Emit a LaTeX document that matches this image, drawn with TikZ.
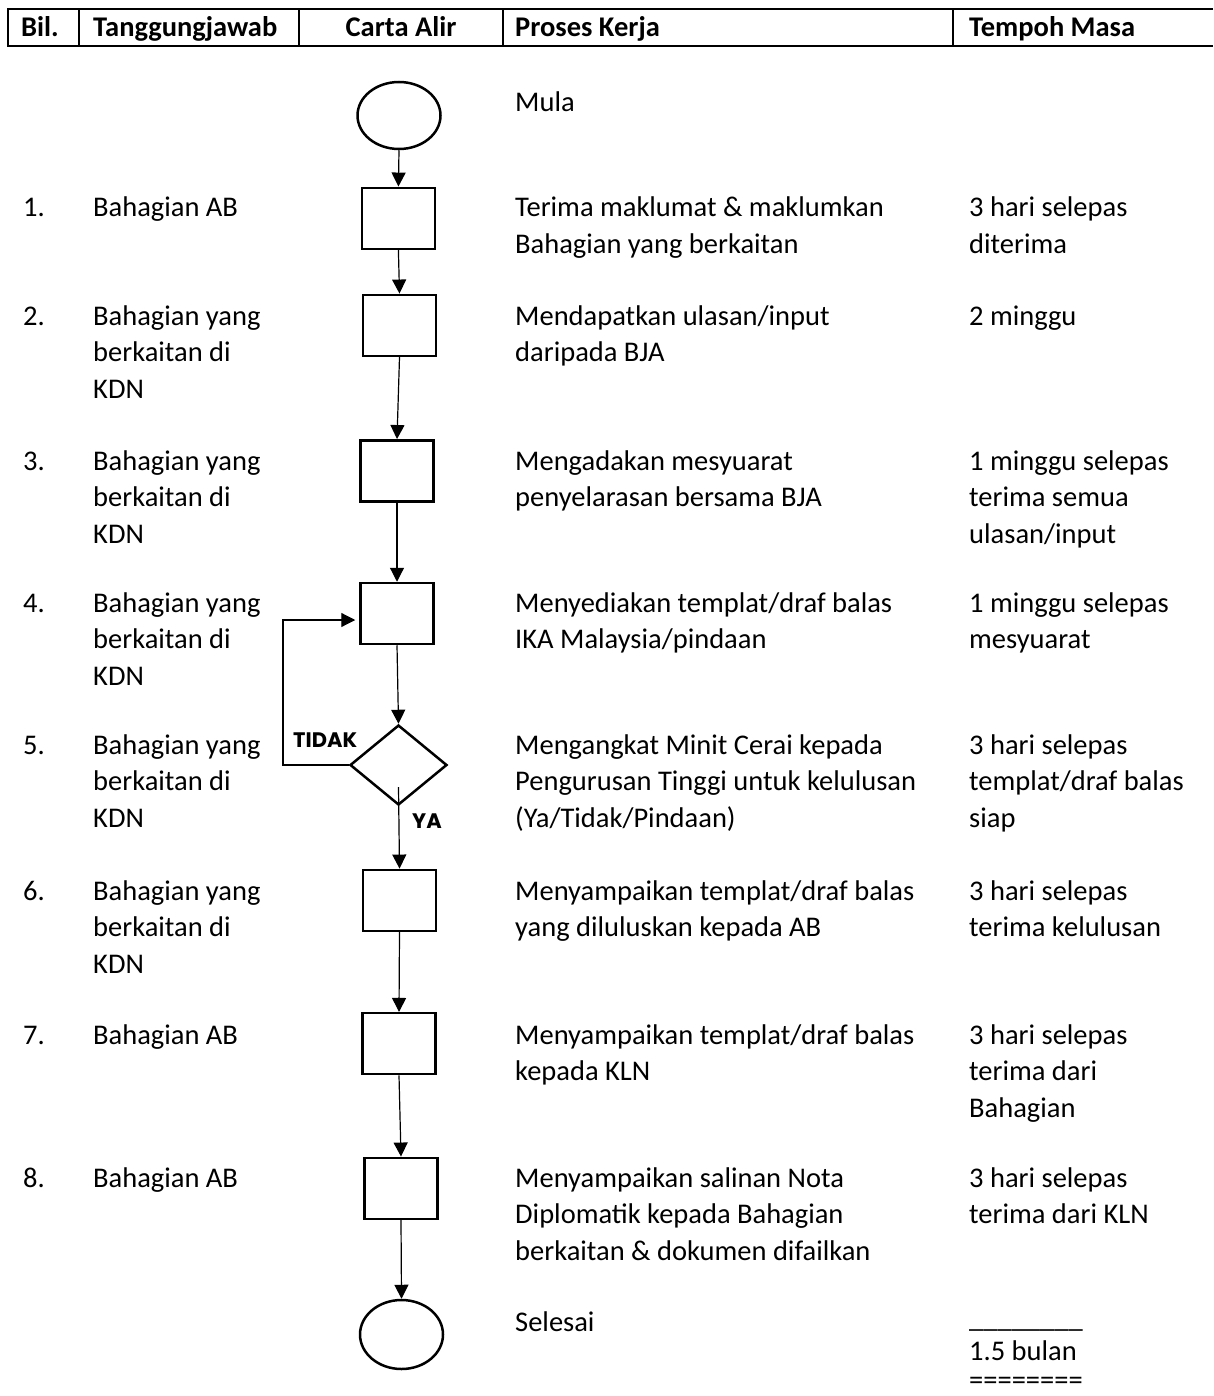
\documentclass[tikz,border=0pt]{standalone}
\usepackage{fontspec}
\setmainfont{Carlito}
\newfontfamily\gothic{Poppins}
\usetikzlibrary{arrows.meta,shapes.geometric}
\newcommand{\ml}[1]{\begin{tabular}[t]{@{}l@{}}#1\end{tabular}}
\begin{document}
\begin{tikzpicture}[x=1pt,y=-1pt,
  txt/.style={anchor=base west, inner sep=0pt, font=\fontsize{28.5}{36.6}\selectfont},
  hdr/.style={anchor=base west, inner sep=0pt, font=\fontsize{28.5}{36.6}\selectfont\bfseries},
  stepbox/.style={draw, line width=2.5pt, minimum width=73pt, minimum height=61pt, inner sep=0pt},
  term/.style={draw, ellipse, line width=2.5pt, minimum width=83pt, minimum height=67pt, inner sep=0pt},
  dec/.style={draw, diamond, line width=2.5pt, minimum width=97pt, minimum height=80pt, inner sep=0pt},
  conn/.style={line width=1.2pt, -{Triangle[length=14pt,width=14pt]}},
  lbl/.style={anchor=base west, inner sep=0pt, font=\gothic\bfseries\fontsize{21}{25}\selectfont},
]
\useasboundingbox[fill=white] (0,0) rectangle (1213,1396);

% header
\draw[line width=2.5pt] (1213,9) -- (8,9) -- (8,46) -- (1213,46);
\draw[line width=2.5pt] (79,9) -- (79,46);
\draw[line width=2.5pt] (299,9) -- (299,46);
\draw[line width=2.5pt] (503,9) -- (503,46);
\draw[line width=2.5pt] (953,9) -- (953,46);
\node[hdr] (h1) at (21,37) {Bil.};
\node[hdr] (h2) at (93,37) {Tanggungjawab};
\node[hdr, anchor=base] (h3) at (401,37) {Carta Alir};
\node[hdr] (h4) at (515,37) {Proses Kerja};
\node[hdr] (h5) at (969,37) {Tempoh Masa};

% flow shapes
\node[term] (s) at (399,115.5) {};
\node[stepbox] (b1) at (398.4,218.3) {};
\node[stepbox] (b2) at (399.5,325.3) {};
\node[stepbox] (b3) at (397,470.8) {};
\node[stepbox] (b4) at (397,613.5) {};
\node[dec] (d) at (398.5,765) {};
\node[stepbox] (b6) at (399.5,900.3) {};
\node[stepbox] (b7) at (399,1043.7) {};
\node[stepbox] (b8) at (401,1188.3) {};
\node[term, minimum height=69pt] (e) at (401.5,1334.5) {};

\coordinate (lp) at (283,620);
\coordinate (ya) at (398.5,787);

\draw[conn] (s.south) -- (b1.north);
\draw[conn] (b1.south) -- (b2.north);
\draw[conn] (b2.south) -- (b3.north);
\draw[conn] (b3.south) -- (b4.north);
\draw[conn] (b4.south) -- (d.north);
\draw[conn, shorten >=4pt] (d.west) -| (lp) -- (b4.west |- lp);
\draw[conn] (ya) -- (b6.north);
\draw[conn] (b6.south) -- (b7.north);
\draw[conn] (b7.south) -- (b8.north);
\draw[conn] (b8.south) -- (e.north);

\node[lbl] (tidak) at (293,747) {TIDAK};
\node[lbl] (yalbl) at (412,828) {YA};

% rows
\node[txt] (mula) at (515,112) {Mula};

\node[txt] (n1) at (23,217) {1.};
\node[txt] (t1) at (93,217) {\ml{Bahagian AB}};
\node[txt] (p1) at (515,217) {\ml{Terima maklumat \& maklumkan\\Bahagian yang berkaitan}};
\node[txt] (m1) at (969,217) {\ml{3 hari selepas\\diterima}};

\node[txt] (n2) at (23,325) {2.};
\node[txt] (t2) at (93,325) {\ml{Bahagian yang\\berkaitan di\\KDN}};
\node[txt] (p2) at (515,325) {\ml{Mendapatkan ulasan/input\\daripada BJA}};
\node[txt] (m2) at (969,325) {\ml{2 minggu}};

\node[txt] (n3) at (23,470) {3.};
\node[txt] (t3) at (93,470) {\ml{Bahagian yang\\berkaitan di\\KDN}};
\node[txt] (p3) at (515,470) {\ml{Mengadakan mesyuarat\\penyelarasan bersama BJA}};
\node[txt] (m3) at (969,470) {\ml{1 minggu selepas\\terima semua\\ulasan/input}};

\node[txt] (n4) at (23,612) {4.};
\node[txt] (t4) at (93,612) {\ml{Bahagian yang\\berkaitan di\\KDN}};
\node[txt] (p4) at (515,612) {\ml{Menyediakan templat/draf balas\\IKA Malaysia/pindaan}};
\node[txt] (m4) at (969,612) {\ml{1 minggu selepas\\mesyuarat}};

\node[txt] (n5) at (23,754) {5.};
\node[txt] (t5) at (93,754) {\ml{Bahagian yang\\berkaitan di\\KDN}};
\node[txt] (p5) at (515,754) {\ml{Mengangkat Minit Cerai kepada\\Pengurusan Tinggi untuk kelulusan\\(Ya/Tidak/Pindaan)}};
\node[txt] (m5) at (969,754) {\ml{3 hari selepas\\templat/draf balas\\siap}};

\node[txt] (n6) at (23,900) {6.};
\node[txt] (t6) at (93,900) {\ml{Bahagian yang\\berkaitan di\\KDN}};
\node[txt] (p6) at (515,900) {\ml{Menyampaikan templat/draf balas\\yang diluluskan kepada AB}};
\node[txt] (m6) at (969,900) {\ml{3 hari selepas\\terima kelulusan}};

\node[txt] (n7) at (23,1044) {7.};
\node[txt] (t7) at (93,1044) {\ml{Bahagian AB}};
\node[txt] (p7) at (515,1044) {\ml{Menyampaikan templat/draf balas\\kepada KLN}};
\node[txt] (m7) at (969,1044) {\ml{3 hari selepas\\terima dari\\Bahagian}};

\node[txt] (n8) at (23,1187) {8.};
\node[txt] (t8) at (93,1187) {\ml{Bahagian AB}};
\node[txt] (p8) at (515,1187) {\ml{Menyampaikan salinan Nota\\Diplomatik kepada Bahagian\\berkaitan \& dokumen difailkan}};
\node[txt] (m8) at (969,1187) {\ml{3 hari selepas\\terima dari KLN}};

\node[txt] (selesai) at (515,1331) {Selesai};
\node[txt] (ul) at (969,1327) {\_\_\_\_\_\_\_\_};
\node[txt] (tot) at (969,1360) {1.5 bulan};
\node[txt, text depth=0pt] (eq) at (969,1389) {========};
\end{tikzpicture}
\end{document}
